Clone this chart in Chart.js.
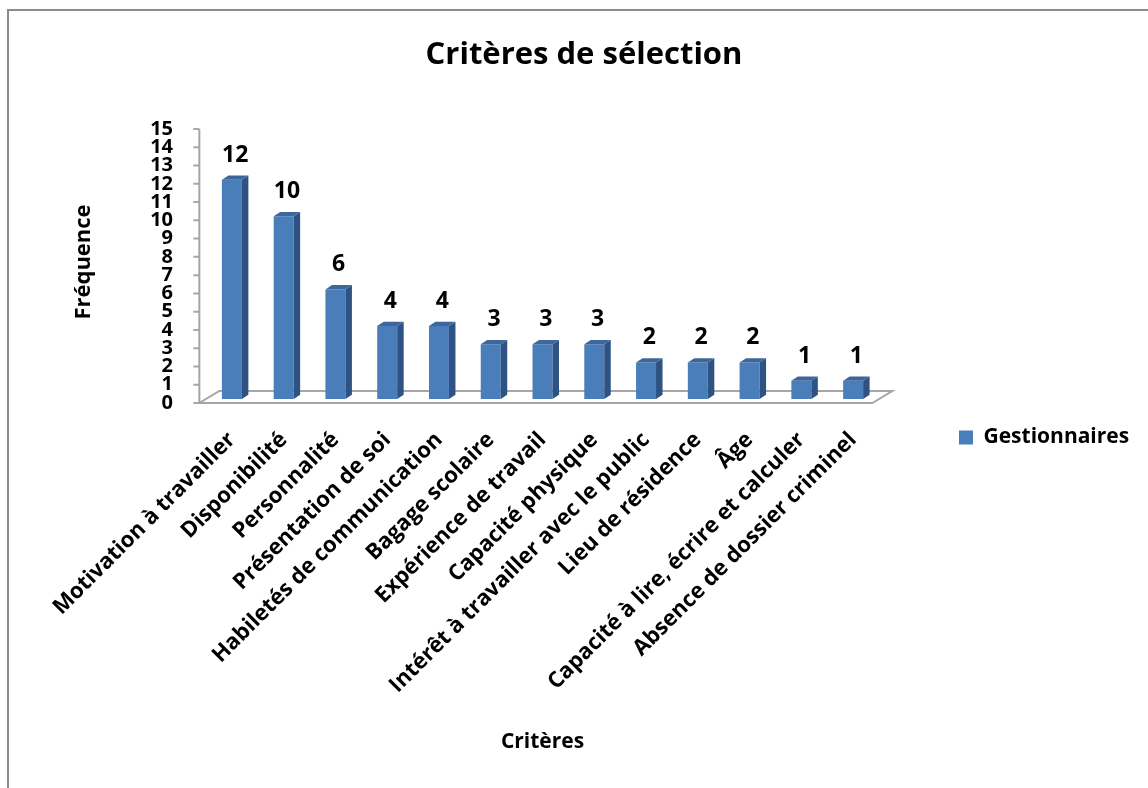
<!DOCTYPE html>
<html lang="fr">
<head>
<meta charset="utf-8">
<title>Critères de sélection</title>
<script src="https://cdn.jsdelivr.net/npm/chart.js@4.4.1/dist/chart.umd.min.js"></script>
<style>
  html, body { margin: 0; padding: 0; background: #ffffff; overflow: hidden; }
  #frame {
    position: absolute; left: 7px; top: 9px; width: 1400px; height: 1000px;
    border-top: 2px solid #8c8c8c; border-left: 2px solid #8c8c8c;
  }
  #wrap { position: absolute; left: 0; top: 0; width: 1148px; height: 788px; }
</style>
</head>
<body>
<div id="frame"></div>
<div id="wrap"><canvas id="chart" width="1148" height="788"></canvas></div>
<script>
// Selection criteria and how often managers cited each one
const categories = [
  'Motivation à travailler',
  'Disponibilité',
  'Personnalité',
  'Présentation de soi',
  'Habiletés de communication',
  'Bagage scolaire',
  'Expérience de travail',
  'Capacité physique',
  'Intérêt à travailler avec le public',
  'Lieu de résidence',
  'Âge',
  'Capacité à lire, écrire et calculer',
  'Absence de dossier criminel'
];
const frequencies = [12, 10, 6, 4, 4, 3, 3, 3, 2, 2, 2, 1, 1];
const seriesName = 'Gestionnaires';
const yMin = 0;
const yMax = 15;
const yStep = 1;

const FONT = "'Open Sans', 'DejaVu Sans', sans-serif";
const FRONT = '#4A7EBB';
const SIDE = '#2E5382';
const TOP = '#3D679B';
const AXIS_GRAY = '#a6a6a6';

// Perspective: the floor recedes by (dx, dy); bars stand a third of the way in.
const FLOOR = { dx: 20, dy: -12 };
const PLANE = 1 / 3;
const BAR_DEPTH = { dx: 6.5, dy: -4.3 };

const perspective3d = {
  id: 'perspective3d',
  afterLayout(chart) {
    // park the legend to the right of the plot, level with the axis labels
    const lg = chart.legend;
    if (!lg) return;
    const w = lg.width, h = lg.height;
    lg.left = 949; lg.right = lg.left + w;
    lg.top = 417; lg.bottom = lg.top + h;
  },
  beforeDatasetsDraw(chart) {
    const { ctx, chartArea: a, scales: { y } } = chart;
    const fx = -FLOOR.dx * PLANE, fy = -FLOOR.dy * PLANE;
    const bx = FLOOR.dx * (1 - PLANE), by = FLOOR.dy * (1 - PLANE);
    const zero = y.getPixelForValue(yMin);
    ctx.save();
    ctx.strokeStyle = AXIS_GRAY;
    ctx.lineWidth = 2;
    ctx.lineJoin = 'miter';
    // floor
    ctx.beginPath();
    ctx.moveTo(a.left + fx, zero + fy);
    ctx.lineTo(a.right + fx, zero + fy);
    ctx.lineTo(a.right + bx, zero + by);
    ctx.lineTo(a.left + bx, zero + by);
    ctx.closePath();
    ctx.stroke();
    // vertical axis on the front plane, with its tick marks
    ctx.beginPath();
    ctx.moveTo(a.left + fx, y.getPixelForValue(yMax) + fy);
    ctx.lineTo(a.left + fx, zero + fy);
    for (const t of y.ticks) {
      const py = y.getPixelForValue(t.value) + fy;
      ctx.moveTo(a.left + fx - 6, py);
      ctx.lineTo(a.left + fx, py);
    }
    ctx.stroke();
    ctx.restore();
  },
  afterDatasetsDraw(chart) {
    const { ctx } = chart;
    const ds = chart.data.datasets[0];
    const meta = chart.getDatasetMeta(0);
    const { dx, dy } = BAR_DEPTH;
    ctx.save();
    meta.data.forEach((bar, i) => {
      const { x, y, base, width } = bar.getProps(['x', 'y', 'base', 'width'], true);
      const x1 = x - width / 2, x2 = x + width / 2;
      // right-hand side face
      ctx.fillStyle = SIDE;
      ctx.beginPath();
      ctx.moveTo(x2, y);
      ctx.lineTo(x2 + dx, y + dy);
      ctx.lineTo(x2 + dx, base + dy);
      ctx.lineTo(x2, base);
      ctx.closePath();
      ctx.fill();
      // top face
      ctx.fillStyle = TOP;
      ctx.beginPath();
      ctx.moveTo(x1, y);
      ctx.lineTo(x1 + dx, y + dy);
      ctx.lineTo(x2 + dx, y + dy);
      ctx.lineTo(x2, y);
      ctx.closePath();
      ctx.fill();
      // value label
      ctx.fillStyle = '#000000';
      ctx.font = `bold 23px ${FONT}`;
      ctx.textAlign = 'center';
      ctx.textBaseline = 'alphabetic';
      ctx.fillText(String(ds.data[i]), x + dx / 2, y - 18);
    });
    ctx.restore();
  }
};

new Chart(document.getElementById('chart'), {
  type: 'bar',
  data: {
    labels: categories,
    datasets: [{
      label: seriesName,
      data: frequencies,
      backgroundColor: FRONT,
      borderWidth: 0,
      barPercentage: 0.386,
      categoryPercentage: 1.0
    }]
  },
  options: {
    responsive: false,
    animation: false,
    events: [],
    layout: { padding: { left: 20, right: 0, top: 0, bottom: 0 } },
    font: { family: FONT },
    plugins: {
      title: {
        display: true,
        text: 'Critères de sélection',
        color: '#000000',
        font: { family: FONT, size: 31, weight: 'bold', lineHeight: 1.2 },
        padding: { top: 37, bottom: 50.8 }
      },
      legend: {
        position: 'chartArea',
        align: 'start',
        labels: {
          color: '#000000',
          font: { family: FONT, size: 21, weight: 'bold' },
          boxWidth: 14,
          boxHeight: 14,
          padding: 10
        }
      },
      tooltip: { enabled: false }
    },
    scales: {
      x: {
        grid: { display: false, drawTicks: false },
        border: { display: false },
        ticks: {
          color: '#000000',
          font: { family: FONT, size: 22, weight: 'bold' },
          maxRotation: 45,
          minRotation: 45,
          autoSkip: false,
          padding: 28
        },
        title: {
          display: true,
          text: 'Critères',
          color: '#000000',
          font: { family: FONT, size: 21, weight: 'bold', lineHeight: 1.2 },
          padding: { top: 0, bottom: 33 }
        },
        afterFit(scale) { scale.height = 389; }
      },
      y: {
        min: yMin,
        max: yMax,
        grid: { display: false, drawTicks: false },
        border: { display: false },
        ticks: {
          stepSize: yStep,
          autoSkip: false,
          color: '#000000',
          font: { family: FONT, size: 20, weight: 'bold', lineHeight: 1 },
          padding: 33,
          labelOffset: 4
        },
        title: {
          display: true,
          text: 'Fréquence',
          color: '#000000',
          font: { family: FONT, size: 22, weight: 'bold', lineHeight: 1.2 },
          padding: { top: 51, bottom: 0 }
        },
        afterFit(scale) { scale.width = 186; }
      },
      // empty band on the right that holds the legend
      legendBand: {
        type: 'linear',
        position: 'right',
        display: true,
        grid: { display: false, drawTicks: false },
        border: { display: false },
        ticks: { display: false },
        afterFit(scale) { scale.width = 269; }
      }
    }
  },
  plugins: [perspective3d]
});
</script>
</body>
</html>
